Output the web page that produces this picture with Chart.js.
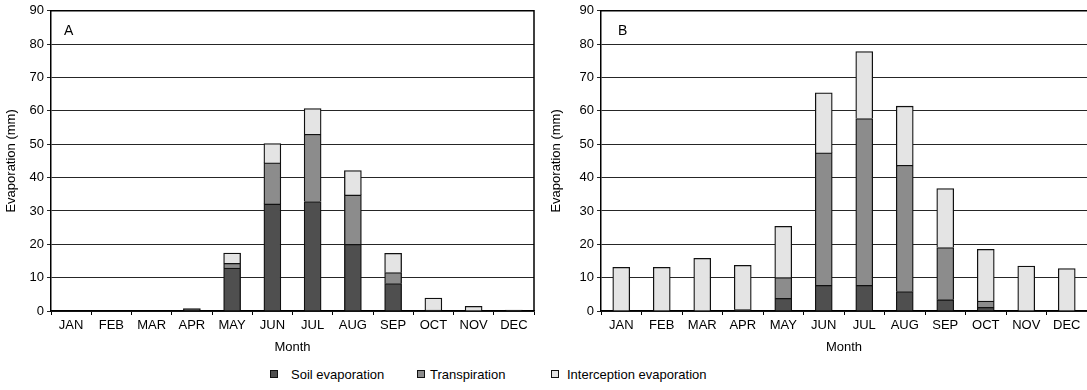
<!DOCTYPE html>
<html>
<head>
<meta charset="utf-8">
<script src="https://cdn.jsdelivr.net/npm/chart.js@4/dist/chart.umd.min.js"></script>
<style>
  html, body { margin: 0; padding: 0; background: #fff; }
  body { width: 1087px; height: 390px; position: relative; overflow: hidden;
         font-family: "Liberation Sans", Arial, sans-serif; }
  .panel { position: absolute; top: 0; height: 360px; }
  #wrapA { left: 0; width: 545px; }
  #wrapB { left: 545px; width: 542px; }
  .legend-box { position: absolute; top: 370px; width: 6px; height: 6px; border: 1px solid #111; }
  .legend-text { position: absolute; top: 367px; font-size: 13px; line-height: 15px; color: #000; white-space: nowrap; }
</style>
</head>
<body>
<div id="wrapA" class="panel"><canvas id="chartA"></canvas></div>
<div id="wrapB" class="panel"><canvas id="chartB"></canvas></div>

<div class="legend-box" style="left:270px; background:#4f4f4f;"></div>
<div class="legend-text" style="left:291px;">Soil evaporation</div>
<div class="legend-box" style="left:417px; background:#8c8c8c;"></div>
<div class="legend-text" style="left:430px;">Transpiration</div>
<div class="legend-box" style="left:551px; background:#e4e4e4;"></div>
<div class="legend-text" style="left:567px;">Interception evaporation</div>

<script>
// Monthly evaporation components (mm)
const months = ['JAN', 'FEB', 'MAR', 'APR', 'MAY', 'JUN', 'JUL', 'AUG', 'SEP', 'OCT', 'NOV', 'DEC'];

// Panel A
const soilA       = [0, 0, 0, 0.7, 12.9, 32.1, 32.8, 20.0, 8.2, 0.3, 0, 0.3];
const transpA     = [0, 0, 0, 0,    1.4, 12.3, 20.2, 14.8, 3.3, 0,   0, 0];
const interceptA  = [0, 0, 0, 0,    3.1,  5.8,  7.7,  7.3, 5.8, 3.6, 1.4, 0];

// Panel B
const soilB       = [0,    0,    0,    0.4,  3.8,  7.7,  7.7,  5.8,  3.4,  1.1, 0,    0];
const transpB     = [0,    0,    0,    0,    6.2, 39.7, 50.0, 37.9, 15.6,  1.9, 0,    0];
const interceptB  = [13.1, 13.1, 15.8, 13.3, 15.4, 18.0, 20.1, 17.7, 17.7, 15.5, 13.5, 12.7];

const yMin = 0, yMax = 90, yStep = 10;
const seriesNames = ['Soil evaporation', 'Transpiration', 'Interception evaporation'];
const seriesColors = ['#4f4f4f', '#8c8c8c', '#e4e4e4'];

const FONT = '"Liberation Sans", Arial, sans-serif';

// Frame around the plot area plus the panel letter
const framePlugin = {
  id: 'frame',
  afterDraw(chart, args, opts) {
    const { ctx, chartArea: a } = chart;
    ctx.save();
    ctx.strokeStyle = '#000';
    ctx.lineWidth = 1.5;
    ctx.beginPath();
    ctx.moveTo(a.left, a.top);
    ctx.lineTo(a.right, a.top);
    if (opts.right) ctx.lineTo(a.right, a.bottom);
    ctx.stroke();
    ctx.fillStyle = '#000';
    ctx.font = '14px ' + FONT;
    ctx.textBaseline = 'alphabetic';
    ctx.fillText(opts.letter, a.left + opts.letterDx, a.top + 24);
    ctx.restore();
  }
};

function makeChart(id, soil, transp, intercept, yWidth, padRight, letter, letterDx, rightBorder) {
  const values = [soil, transp, intercept];
  return new Chart(document.getElementById(id), {
    type: 'bar',
    data: {
      labels: months,
      datasets: values.map((v, i) => ({
        label: seriesNames[i],
        data: v,
        backgroundColor: seriesColors[i],
        borderColor: '#111',
        borderWidth: 1.3,
        barThickness: 17
      }))
    },
    options: {
      responsive: true,
      maintainAspectRatio: false,
      animation: false,
      layout: { padding: { top: 10, right: padRight, bottom: 0, left: 0 } },
      plugins: {
        legend: { display: false },
        tooltip: { enabled: false },
        frame: { letter: letter, letterDx: letterDx, right: rightBorder }
      },
      scales: {
        x: {
          stacked: true,
          grid: { offset: true, drawOnChartArea: false, drawTicks: true, tickLength: 4, color: '#000', lineWidth: 1 },
          border: { display: true, color: '#000', width: 1.5 },
          ticks: { color: '#000', font: { family: FONT, size: 13 }, padding: 3, maxRotation: 0, autoSkip: false },
          title: { display: true, text: 'Month', color: '#000', font: { family: FONT, size: 13, lineHeight: 1.2 }, padding: { top: 0, bottom: 5 } },
          afterFit(scale) { scale.height = 49; }
        },
        y: {
          stacked: true,
          min: yMin,
          max: yMax,
          ticks: { stepSize: yStep, color: '#000', font: { family: FONT, size: 13 }, padding: 3 },
          grid: { color: '#262626', lineWidth: 1, tickLength: 4, drawTicks: true },
          border: { display: true, color: '#000', width: 1.5 },
          title: { display: true, text: 'Evaporation (mm)', color: '#000', font: { family: FONT, size: 13, lineHeight: 1.2 }, padding: { top: 4, bottom: 0 } },
          afterFit(scale) { scale.width = yWidth; }
        }
      }
    },
    plugins: [framePlugin]
  });
}

makeChart('chartA', soilA, transpA, interceptA, 51, 11, 'A', 13, true);
makeChart('chartB', soilB, transpB, interceptB, 56, 0, 'B', 17, false);
</script>
</body>
</html>
